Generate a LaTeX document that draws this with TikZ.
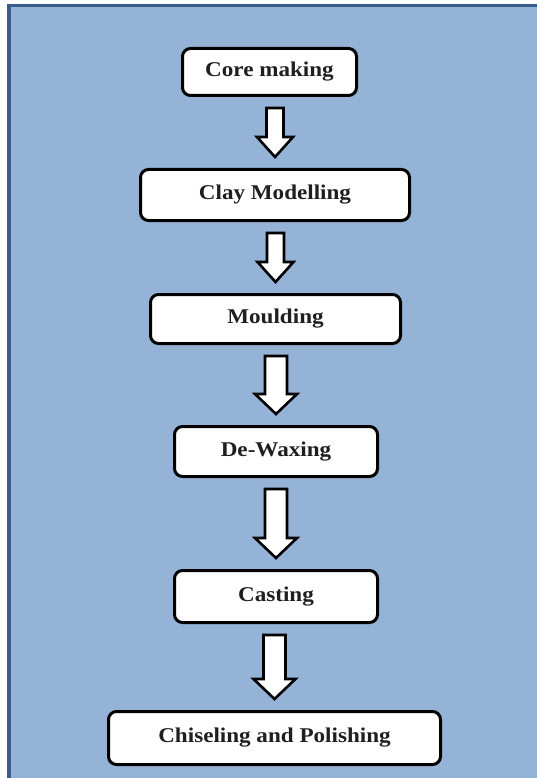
\documentclass[tikz,border=0pt]{standalone}
\usepackage{fontspec}
\setmainfont[FakeStretch=1.1]{Liberation Serif}
\usetikzlibrary{calc}
\definecolor{bgblue}{HTML}{95B3D7}
\definecolor{frameblue}{HTML}{385D8A}
\tikzset{
  stepbox/.style={draw=black, fill=white, line width=3pt, rounded corners=8pt,
    inner sep=0pt, font=\fontsize{21}{25}\selectfont\bfseries, text=black!88},
  barrow/.style={draw=black, fill=white, line width=2.6pt, line join=miter}
}
\newcommand\blockarrow[4]{% from, to, shaft half width, head half width
  \draw[barrow] let \p1=(#1.south), \p2=(#2.north) in
    (\x2-#3pt,\y1-11pt) -- (\x2+#3pt,\y1-11pt) -- (\x2+#3pt,\y2+31pt)
    -- (\x2+#4pt,\y2+31pt) -- (\x2,\y2+11pt) -- (\x2-#4pt,\y2+31pt)
    -- (\x2-#3pt,\y2+31pt) -- cycle;}
\begin{document}
\begin{tikzpicture}[x=1pt,y=-1pt]
\useasboundingbox (0,0) rectangle (536,778);
\fill[white] (0,0) rectangle (536,778);
\filldraw[fill=bgblue, draw=frameblue, line width=3.5pt] (8.75,5.75) rectangle (545,790);

\node[stepbox, minimum width=174pt, minimum height=47pt] (core) at (269.5,72) {Core making};
\node[stepbox, minimum width=269pt, minimum height=51pt] (clay) at (275,195) {Clay Modelling};
\node[stepbox, minimum width=250pt, minimum height=49pt] (mould) at (275.5,319) {Moulding};
\node[stepbox, minimum width=203pt, minimum height=50pt] (dewax) at (276,451.5) {De-Waxing};
\node[stepbox, minimum width=203pt, minimum height=52pt] (cast) at (276,596.5) {Casting};
\node[stepbox, minimum width=332pt, minimum height=53pt] (chisel) at (274.5,738) {Chiseling and Polishing};

\blockarrow{core}{clay}{8.5}{18}
\blockarrow{clay}{mould}{8.5}{18}
\blockarrow{mould}{dewax}{11}{21}
\blockarrow{dewax}{cast}{11}{21}
\blockarrow{cast}{chisel}{11}{21}
\end{tikzpicture}
\end{document}
